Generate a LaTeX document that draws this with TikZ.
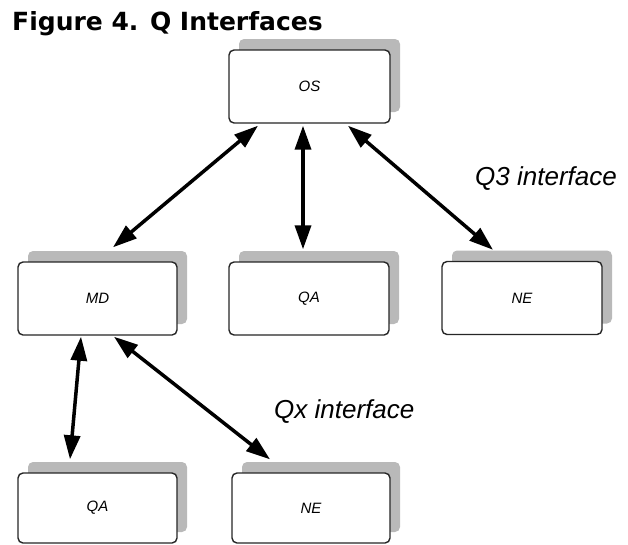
\documentclass[tikz,border=0pt]{standalone}
\usepackage{fontspec}
\setmainfont{Liberation Sans}
\newfontfamily\titlefont{DejaVu Sans}
\usetikzlibrary{arrows.meta,shadows}
\begin{document}
\begin{tikzpicture}[x=1pt,y=-1pt,
  box/.style={draw=black!85, line width=1.4pt, rounded corners=5pt, fill=white,
    minimum height=73pt, inner sep=0pt, font=\itshape\fontsize{15}{15}\selectfont,
    drop shadow={shadow xshift=10pt, shadow yshift=11pt, fill=gray!55, opacity=1}},
  arr/.style={line width=3.5pt, {Triangle[length=24pt,width=16pt]}-{Triangle[length=24pt,width=16pt]}},
  lbl/.style={font=\itshape\fontsize{26}{26}\selectfont, inner sep=0pt, anchor=base west}]
\useasboundingbox (0,0) rectangle (628,544);
\node[anchor=base west, inner sep=0pt, font=\titlefont\bfseries\fontsize{25}{25}\selectfont] (title) at (12,30) {Figure 4. Q Interfaces};
\node[box, minimum width=161pt] (os) at (309.5,86.5) {OS};
\node[box, minimum width=159pt] (md) at (97.5,298.5) {MD};
\node[box, minimum width=160pt] (qa1) at (309,298.5) {QA};
\node[box, minimum width=160pt] (ne1) at (522,298) {NE};
\node[box, minimum width=159pt, minimum height=70pt] (qa2) at (97.5,508) {QA};
\node[box, minimum width=158pt, minimum height=70pt] (ne2) at (311,508) {NE};
\draw[arr] ([xshift=-51.5pt,yshift=-2pt]os.south) -- ([xshift=15.5pt,yshift=14pt]md.north);
\draw[arr] ([xshift=-6.5pt,yshift=-2pt]os.south) -- ([xshift=-6pt,yshift=12pt]qa1.north);
\draw[arr] ([xshift=38.5pt,yshift=-2pt]os.south) -- ([xshift=-29pt,yshift=11pt]ne1.north);
\draw[arr] ([xshift=-16.5pt,yshift=-1pt]md.south) -- ([xshift=-27.5pt,yshift=13pt]qa2.north);
\draw[arr] ([xshift=16.5pt,yshift=-1pt]md.south) -- ([xshift=-41pt,yshift=13pt]ne2.north);
\node[lbl] (q3) at (475,185) {Q3 interface};
\node[lbl] (qx) at (274,418) {Qx interface};
\end{tikzpicture}
\end{document}
